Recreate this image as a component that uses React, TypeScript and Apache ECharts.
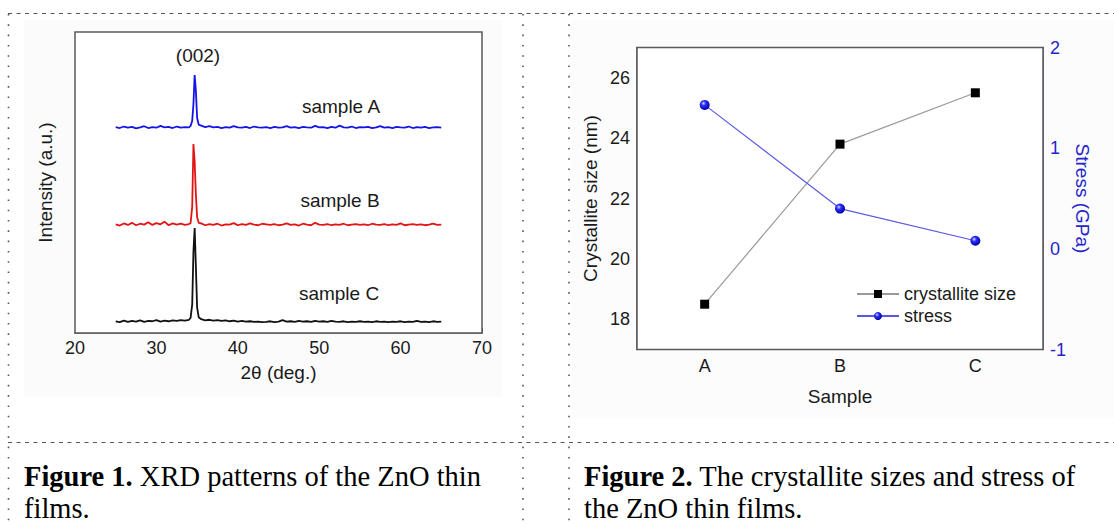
import React, { useEffect, useRef } from 'react';
import * as echarts from 'echarts';

// ---------- Figure 1: XRD patterns ----------
const twoTheta = [
  25, 25.5, 26, 26.5, 27, 27.5, 28, 28.5, 29, 29.5, 30, 30.5, 31, 31.5, 32, 32.5, 33, 33.5, 34,
  34.2, 34.4, 34.55, 34.7, 34.85, 35, 35.2,
  35.5, 36, 36.5, 37, 37.5, 38, 38.5, 39, 39.5, 40, 40.5, 41, 41.5, 42, 42.5, 43, 43.5, 44, 44.5, 45,
  45.5, 46, 46.5, 47, 47.5, 48, 48.5, 49, 49.5, 50, 50.5, 51, 51.5, 52, 52.5, 53, 53.5, 54, 54.5, 55,
  55.5, 56, 56.5, 57, 57.5, 58, 58.5, 59, 59.5, 60, 60.5, 61, 61.5, 62, 62.5, 63, 63.5, 64, 64.5, 65,
];

const intensityA = [
  68.4, 68.1, 68.6, 68.2, 68.5, 68.0, 68.3, 68.7, 68.1, 68.4, 68.2, 68.8, 68.3, 68.5, 68.1, 68.6, 68.2, 68.4, 68.3,
  68.8, 70.5, 76.0, 85.7, 80.5, 71.5, 69.2,
  68.9, 68.4, 68.7, 68.3, 68.5, 68.1, 68.4, 68.2, 68.7, 68.3,
  68.2, 68.5, 68.1, 68.6, 68.3, 68.2, 68.4, 68.1, 68.5, 68.2,
  68.3, 68.7, 68.2, 68.4, 68.1, 68.5, 68.3, 68.2, 68.8, 68.3,
  68.4, 68.1, 68.5, 68.2, 68.9, 68.3, 68.2, 68.6, 68.1, 68.4,
  68.3, 68.5, 68.1, 68.3, 68.7, 68.2, 68.4, 68.1, 68.5, 68.3,
  68.2, 68.6, 68.1, 68.4, 68.2, 68.5, 68.1, 68.3, 68.4, 68.2,
];

const intensityB = [
  36.1, 35.7, 36.4, 35.9, 36.6, 35.8, 36.3, 36.0, 36.8, 35.9, 36.5, 36.1, 37.0, 35.8, 36.4, 36.0, 36.3, 35.9, 36.2,
  36.5, 42.0, 62.8, 57.0, 46.0, 38.5, 36.6,
  36.4, 35.8, 36.2, 35.9, 36.3, 35.7, 36.1, 36.0, 36.5, 35.8,
  36.2, 35.9, 36.4, 36.0, 35.8, 36.3, 36.1, 35.9, 36.2, 35.8,
  36.0, 36.4, 35.9, 36.1, 35.7, 36.3, 36.0, 35.8, 36.6, 36.0,
  35.9, 36.2, 35.8, 36.1, 35.9, 36.3, 35.8, 36.0, 36.2, 35.9,
  36.1, 35.8, 36.3, 36.0, 35.9, 36.2, 35.8, 36.1, 35.9, 36.4,
  35.8, 36.0, 36.2, 35.9, 36.1, 35.8, 36.0, 36.3, 35.9, 36.0,
];

const intensityC = [
  3.9, 3.6, 4.1, 3.7, 4.0, 3.8, 4.2, 3.7, 4.0, 3.9, 4.3, 3.8, 4.1, 3.9, 4.2, 4.0, 4.3, 4.1, 4.4,
  5.0, 9.5, 27.0, 34.9, 22.0, 8.5, 5.2,
  4.6, 4.2, 4.4, 4.1, 4.3, 4.0, 4.2, 3.9, 4.1, 3.8,
  4.0, 3.8, 3.9, 3.7, 3.8, 3.6, 3.7, 3.9, 3.6, 3.8,
  4.3, 3.8, 3.9, 3.7, 4.0, 3.8, 3.9, 3.7, 4.0, 3.8,
  3.9, 3.7, 4.0, 3.8, 3.7, 3.9, 3.6, 3.8, 3.7, 3.9,
  3.7, 3.8, 3.6, 3.9, 3.7, 3.8, 3.6, 3.8, 3.7, 3.9,
  3.6, 3.8, 3.7, 4.0, 3.7, 3.8, 3.6, 3.9, 3.7, 3.8,
];

const xrdSeriesNames = ['sample A', 'sample B', 'sample C'];

// ---------- Figure 2: crystallite size and stress ----------
const samples = ['A', 'B', 'C'];
const crystalliteSize = [18.5, 23.8, 25.5];
const stress = [1.43, 0.4, 0.08];
const sizeTicks = [18, 20, 22, 24, 26];
const sizeMinorTicks = [17, 19, 21, 23, 25, 27];

const SANS = 'Arial, "Liberation Sans", Helvetica, sans-serif';
const SERIF = '"Times New Roman", "Liberation Serif", serif';
const FRAME = '#5a5a5a';
const TEXT = '#1a1a1a';
const BLUE_AXIS = '#3c3cd8';
const BLUE_TEXT = '#2424cc';

function zip(xs: number[], ys: number[]) {
  return xs.map((x, i) => [x, ys[i]]);
}

function captionLine(x: number, y: number, text: string) {
  return {
    type: 'text',
    z: 10,
    x,
    y,
    style: {
      text,
      fontFamily: SERIF,
      fontSize: 28.5,
      lineHeight: 28,
      fill: '#000',
      textVerticalAlign: 'middle',
      rich: { b: { fontFamily: SERIF, fontSize: 28.5, lineHeight: 28, fontWeight: 'bold', fill: '#000' } },
    },
  };
}

function buildOption(): any {
  const tickLabel = { fontFamily: SANS, fontSize: 18, color: TEXT };
  const nameStyle = { fontFamily: SANS, fontSize: 19, color: TEXT };

  const dotted = { stroke: '#555', lineWidth: 1.6, lineDash: [1.6, 8.7] };
  const dashed = { stroke: '#555', lineWidth: 1, lineDash: [4, 4.5] };
  const annotation = (x: number, y: number, text: string) => ({
    type: 'text',
    z: 10,
    x,
    y,
    style: { text, font: `19px ${SANS}`, fill: TEXT, textAlign: 'center', textVerticalAlign: 'middle' },
  });

  return {
    animation: false,
    backgroundColor: '#ffffff',
    grid: [
      { left: 75, top: 32, width: 407, height: 301, show: true, borderColor: FRAME, borderWidth: 1.5, backgroundColor: '#ffffff', z: 1 },
      { left: 637, top: 47.5, width: 406, height: 302, show: true, borderColor: FRAME, borderWidth: 1.5, backgroundColor: '#ffffff', z: 1 },
    ],
    xAxis: [
      {
        gridIndex: 0,
        type: 'value',
        min: 20,
        max: 70,
        interval: 10,
        axisLine: { show: true, lineStyle: { color: FRAME, width: 1.5 } },
        axisTick: { show: true, inside: true, length: 5, lineStyle: { color: FRAME, width: 1 } },
        minorTick: { show: true, splitNumber: 2, length: 4, lineStyle: { color: FRAME, width: 1 } },
        axisLabel: { ...tickLabel, margin: 6 },
        splitLine: { show: false },
        minorSplitLine: { show: false },
        name: '2θ (deg.)',
        nameLocation: 'middle',
        nameGap: 30,
        nameTextStyle: nameStyle,
      },
      {
        gridIndex: 1,
        type: 'value',
        min: 0.5,
        max: 3.5,
        interval: 0.5,
        axisLine: { show: true, lineStyle: { color: FRAME, width: 1.5 } },
        axisTick: { show: true, inside: true, length: 5, lineStyle: { color: FRAME, width: 1 } },
        minorTick: { show: true, splitNumber: 2, length: 3, lineStyle: { color: FRAME, width: 1 } },
        axisLabel: {
          ...tickLabel,
          margin: 7,
          formatter: (v: number) => (Number.isInteger(v) && samples[v - 1] ? samples[v - 1] : ''),
        },
        splitLine: { show: false },
        name: 'Sample',
        nameLocation: 'middle',
        nameGap: 37,
        nameTextStyle: nameStyle,
      },
    ],
    yAxis: [
      {
        gridIndex: 0,
        type: 'value',
        min: 0,
        max: 100,
        axisLine: { show: false },
        axisTick: { show: false },
        axisLabel: { show: false },
        splitLine: { show: false },
        name: 'Intensity (a.u.)',
        nameLocation: 'middle',
        nameRotate: 90,
        nameGap: 20,
        nameTextStyle: nameStyle,
      },
      {
        gridIndex: 1,
        type: 'value',
        position: 'left',
        min: 17,
        max: 27,
        interval: 1,
        axisLine: { show: true, lineStyle: { color: FRAME, width: 1.5 } },
        axisTick: { show: true, inside: true, length: 5, customValues: sizeTicks, lineStyle: { color: FRAME, width: 1 } },
        axisLabel: { ...tickLabel, margin: 7, customValues: sizeTicks },
        splitLine: { show: false },
        name: 'Crystallite size (nm)',
        nameLocation: 'middle',
        nameRotate: 90,
        nameGap: 37,
        nameTextStyle: nameStyle,
      },
      {
        gridIndex: 1,
        type: 'value',
        position: 'right',
        min: -1,
        max: 2,
        interval: 1,
        axisLine: { show: true, lineStyle: { color: BLUE_AXIS, width: 1.5 } },
        axisTick: { show: true, inside: true, length: 5, lineStyle: { color: BLUE_AXIS, width: 1 } },
        minorTick: { show: true, splitNumber: 2, length: 3, lineStyle: { color: BLUE_AXIS, width: 1 } },
        axisLabel: { ...tickLabel, color: BLUE_TEXT, margin: 7 },
        splitLine: { show: false },
        minorSplitLine: { show: false },
        name: 'Stress (GPa)',
        nameLocation: 'middle',
        nameRotate: -90,
        nameGap: 30,
        nameTextStyle: { ...nameStyle, color: BLUE_TEXT },
      },
      {
        gridIndex: 1,
        type: 'value',
        position: 'left',
        min: 17,
        max: 27,
        interval: 1,
        axisLine: { show: false },
        axisTick: { show: true, inside: true, length: 3, customValues: sizeMinorTicks, lineStyle: { color: FRAME, width: 1 } },
        axisLabel: { show: false },
        splitLine: { show: false },
      },
    ],
    legend: {
      data: ['crystallite size', 'stress'],
      orient: 'vertical',
      left: 851,
      top: 280,
      itemWidth: 42,
      itemHeight: 10,
      itemGap: 4,
      textStyle: { fontFamily: SANS, fontSize: 18, color: TEXT },
    },
    series: [
      {
        name: xrdSeriesNames[0],
        type: 'line',
        xAxisIndex: 0,
        yAxisIndex: 0,
        showSymbol: false,
        symbol: 'none',
        data: zip(twoTheta, intensityA),
        lineStyle: { color: '#1414e6', width: 1.8 },
      },
      {
        name: xrdSeriesNames[1],
        type: 'line',
        xAxisIndex: 0,
        yAxisIndex: 0,
        showSymbol: false,
        symbol: 'none',
        data: zip(twoTheta, intensityB),
        lineStyle: { color: '#e41414', width: 1.8 },
      },
      {
        name: xrdSeriesNames[2],
        type: 'line',
        xAxisIndex: 0,
        yAxisIndex: 0,
        showSymbol: false,
        symbol: 'none',
        data: zip(twoTheta, intensityC),
        lineStyle: { color: '#111111', width: 1.8 },
      },
      {
        name: 'crystallite size',
        type: 'line',
        xAxisIndex: 1,
        yAxisIndex: 1,
        data: crystalliteSize.map((v, i) => [i + 1, v]),
        symbol: 'rect',
        symbolSize: 9,
        itemStyle: { color: '#000000' },
        lineStyle: { color: '#999999', width: 1.2 },
        z: 3,
      },
      {
        name: 'stress',
        type: 'line',
        xAxisIndex: 1,
        yAxisIndex: 2,
        data: stress.map((v, i) => [i + 1, v]),
        symbol: 'circle',
        symbolSize: 10,
        itemStyle: {
          color: {
            type: 'radial',
            x: 0.38,
            y: 0.35,
            r: 0.65,
            colorStops: [
              { offset: 0, color: '#dcdcff' },
              { offset: 0.35, color: '#2f2fff' },
              { offset: 1, color: '#0000a8' },
            ],
          },
        },
        lineStyle: { color: '#5858e4', width: 1.2 },
        z: 4,
      },
    ],
    graphic: [
      // faint image backgrounds
      { type: 'rect', z: -10, shape: { x: 24, y: 20, width: 478, height: 377 }, style: { fill: '#fbfbfb' } },
      { type: 'rect', z: -10, shape: { x: 571, y: 20, width: 543, height: 398 }, style: { fill: '#fcfcfc' } },
      // table borders
      { type: 'line', z: 10, shape: { x1: 8, y1: 13.5, x2: 1114, y2: 13.5 }, style: dashed },
      { type: 'line', z: 10, shape: { x1: 8, y1: 442.5, x2: 1114, y2: 442.5 }, style: dashed },
      { type: 'line', z: 10, shape: { x1: 8.5, y1: 14, x2: 8.5, y2: 524 }, style: dotted },
      { type: 'line', z: 10, shape: { x1: 523, y1: 14, x2: 523, y2: 524 }, style: dotted },
      { type: 'line', z: 10, shape: { x1: 569, y1: 14, x2: 569, y2: 524 }, style: dotted },
      // annotations in Figure 1
      annotation(198, 55, '(002)'),
      annotation(341, 106, xrdSeriesNames[0]),
      annotation(340, 200, xrdSeriesNames[1]),
      annotation(339, 293, xrdSeriesNames[2]),
      // captions
      captionLine(24, 476, '{b|Figure 1.} XRD patterns of the ZnO thin'),
      captionLine(24, 508, 'films.'),
      captionLine(584, 476, '{b|Figure 2.} The crystallite sizes and stress of'),
      captionLine(584, 508, 'the ZnO thin films.'),
    ],
  };
}

export default function App() {
  const ref = useRef<HTMLDivElement>(null);
  useEffect(() => {
    document.body.style.margin = '0';
    const chart = echarts.init(ref.current as HTMLDivElement, undefined, { renderer: 'svg' });
    chart.setOption(buildOption());
    return () => chart.dispose();
  }, []);
  return <div ref={ref} style={{ width: 1114, height: 524 }} />;
}
